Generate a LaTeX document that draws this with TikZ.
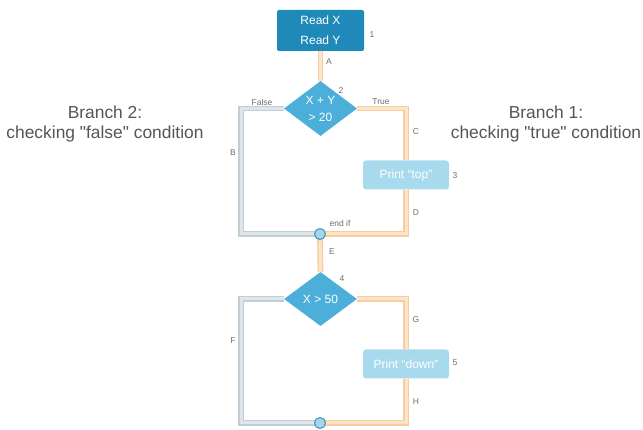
\documentclass[tikz,border=0pt]{standalone}
\usepackage{fontspec}
\setmainfont{Liberation Sans}
\usetikzlibrary{shapes.geometric}

\definecolor{readblue}{HTML}{1F8ABA}
\definecolor{decblue}{HTML}{4BAFDA}
\definecolor{printblue}{HTML}{A8DAEE}
\definecolor{joinfill}{HTML}{A6D5E8}
\definecolor{joinedge}{HTML}{3A93C0}
\definecolor{trueedge}{HTML}{F7CC9E}
\definecolor{truefill}{HTML}{FCE4C8}
\definecolor{falseedge}{HTML}{C2CED6}
\definecolor{falsefill}{HTML}{DFE6EA}
\definecolor{tagtext}{HTML}{6E6E6E}
\definecolor{branchtext}{HTML}{555555}

% straight double quote, set as a glyph so no text mapping turns it curly
\newcommand{\dq}{\XeTeXglyph\XeTeXcharglyph"22\relax}

\tikzset{
  readbox/.style={rectangle, rounded corners=2pt, fill=readblue, text=white,
    minimum width=87pt, minimum height=41pt, inner sep=0pt, align=center,
    font=\fontsize{12}{20}\selectfont},
  decision/.style={diamond, fill=decblue, text=white, inner sep=0pt,
    minimum width=73pt, minimum height=54pt, align=center,
    font=\fontsize{12}{17}\selectfont},
  printbox/.style={rectangle, rounded corners=3pt, fill=printblue, text=white,
    minimum width=86pt, minimum height=29pt, inner sep=0pt,
    font=\fontsize{12}{14}\selectfont},
  joinpt/.style={circle, fill=joinfill, draw=joinedge, line width=1pt,
    minimum size=11pt, inner sep=0pt},
  truepath/.style={draw=trueedge, line width=1.4pt, double=truefill,
    double distance=3pt},
  falsepath/.style={draw=falseedge, line width=1.4pt, double=falsefill,
    double distance=3pt},
  tag/.style={text=tagtext, font=\fontsize{8.5}{10}\selectfont, inner sep=0pt},
  branchnote/.style={text=branchtext, align=center,
    font=\fontsize{17.4}{20}\selectfont, inner sep=0pt}
}

\begin{document}
\begin{tikzpicture}[x=1pt, y=-1pt]
\useasboundingbox (0,0) rectangle (643,430);

% columns used by the side branches
\coordinate (xl) at (241,0);

% flow nodes
\node[readbox] (read) at (320.5,30.5) {Read X\\Read Y};
\node[decision] (d1) at (320.5,108.5) {X + Y\\> 20};
\node[printbox] (ptop) at (406,175) {Print “top”};
\node[decision] (d2) at (320.5,299) {X > 50};
\node[printbox] (pdown) at (406,364) {Print “down”};

% connectors of the first decision
\draw[truepath] (read.south) -- (d1.north);
\draw[falsepath] (d1.west) -- (d1.west -| xl) |- (320,234);
\draw[truepath] (d1.east) -| (ptop.north);
\draw[truepath] (ptop.south) |- (320,234);
\draw[truepath] (320,234) -- (d2.north);

% connectors of the second decision
\draw[falsepath] (d2.west) -- (d2.west -| xl) |- (320,423);
\draw[truepath] (d2.east) -| (pdown.north);
\draw[truepath] (pdown.south) |- (320,423);

% merge points
\node[joinpt] (e1) at (320,234) {};
\node[joinpt] (e2) at (320,423) {};

% step numbers and segment tags
\node[tag] (n1) at (372,35) {1};
\node[tag] (n2) at (341,91) {2};
\node[tag] (n3) at (455,176) {3};
\node[tag] (n4) at (342,279) {4};
\node[tag] (n5) at (455,363) {5};
\node[tag] (tA) at (329,62) {A};
\node[tag] (tB) at (233,153) {B};
\node[tag] (tC) at (416,132) {C};
\node[tag] (tD) at (416,213) {D};
\node[tag] (tE) at (332,252) {E};
\node[tag] (tF) at (233,341) {F};
\node[tag] (tG) at (416,320) {G};
\node[tag] (tH) at (416,402) {H};
\node[tag] (tfalse) at (262,102) {False};
\node[tag] (ttrue) at (381,102) {True};
\node[tag] (tendif) at (340,223) {end if};

% branch notes
\node[branchnote] (br2) at (105,124) {Branch 2:\\checking \dq false\dq{} condition};
\node[branchnote] (br1) at (546,124) {Branch 1:\\checking \dq true\dq{} condition};
\end{tikzpicture}
\end{document}
